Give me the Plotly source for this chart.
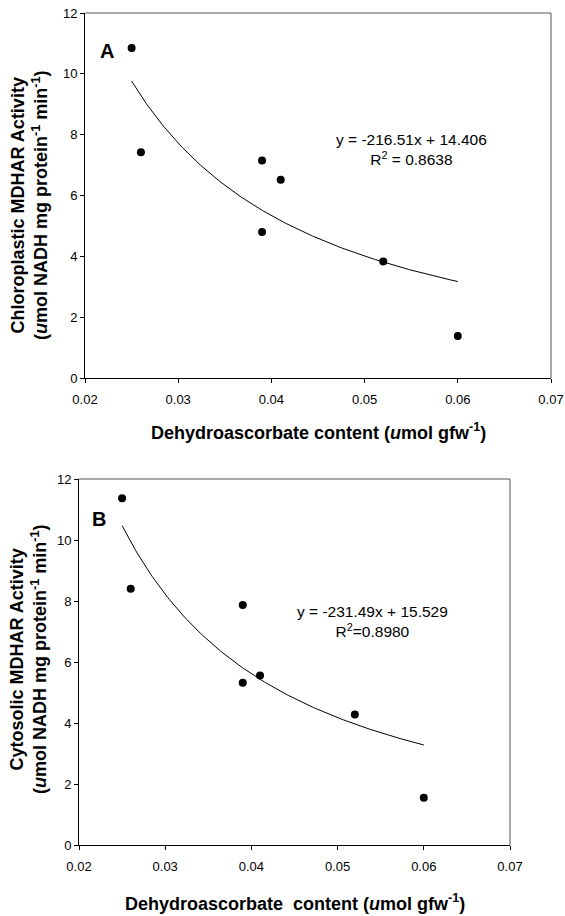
import numpy as np
import plotly.graph_objects as go

# ---- data ----
dha_content = [0.025, 0.026, 0.039, 0.039, 0.041, 0.052, 0.060]
chloro_mdhar = [10.85, 7.42, 7.15, 4.80, 6.52, 3.83, 1.38]
cyto_mdhar = [11.37, 8.40, 7.87, 5.32, 5.56, 4.28, 1.55]

# fitted curve (power form): y = y0 * (x / x0) ** (-k)
fit_x_range = [0.025, 0.060]
fit_A = {"y0": 9.76, "k": 1.284}
fit_B = {"y0": 10.47, "k": 1.326}

x_ticks = [0.02, 0.03, 0.04, 0.05, 0.06, 0.07]
x_tick_labels = ["0.02", "0.03", "0.04", "0.05", "0.06", "0.07"]
y_ticks = [0, 2, 4, 6, 8, 10, 12]

eq_A = "y = -216.51x + 14.406<br>R<sup>2</sup> = 0.8638"
eq_B = "y = -231.49x + 15.529<br>R<sup>2</sup>=0.8980"

FONT = "Liberation Sans, Arial, sans-serif"

fx = np.linspace(fit_x_range[0], fit_x_range[1], 200)
fyA = fit_A["y0"] * (fx / fit_x_range[0]) ** (-fit_A["k"])
fyB = fit_B["y0"] * (fx / fit_x_range[0]) ** (-fit_B["k"])

fig = go.Figure()
fig.add_trace(go.Scatter(x=fx, y=fyA, mode="lines", line=dict(color="black", width=1),
                         xaxis="x", yaxis="y", showlegend=False, hoverinfo="skip"))
fig.add_trace(go.Scatter(x=dha_content, y=chloro_mdhar, mode="markers",
                         marker=dict(color="black", size=8), xaxis="x", yaxis="y", showlegend=False))
fig.add_trace(go.Scatter(x=fx, y=fyB, mode="lines", line=dict(color="black", width=1),
                         xaxis="x2", yaxis="y2", showlegend=False, hoverinfo="skip"))
fig.add_trace(go.Scatter(x=dha_content, y=cyto_mdhar, mode="markers",
                         marker=dict(color="black", size=8), xaxis="x2", yaxis="y2", showlegend=False))

W, H = 565, 916

def xax(domain, anchor):
    return dict(domain=domain, anchor=anchor, range=[0.02, 0.07], tickvals=x_ticks,
                ticktext=x_tick_labels, ticks="outside", ticklen=4, tickcolor="black",
                showline=True, linecolor="black", linewidth=1, mirror=False,
                showgrid=False, zeroline=False, automargin=False, ticklabelstandoff=5,
                tickfont=dict(family=FONT, size=13, color="black"))

def yax(domain, anchor):
    return dict(domain=domain, anchor=anchor, range=[0, 12], tickvals=y_ticks,
                ticks="outside", ticklen=4, tickcolor="black",
                showline=True, linecolor="black", linewidth=1, mirror=False,
                showgrid=False, zeroline=False, automargin=False,
                tickfont=dict(family=FONT, size=13, color="black"))

A_x = [85 / W, 551 / W]
A_y = [1 - 378 / H, 1 - 13 / H]
B_x = [79 / W, 510 / W]
B_y = [1 - 845 / H, 1 - 479 / H]

shapes = []
# top and right frame lines (gray)
for (xd, yd) in [(A_x, A_y), (B_x, B_y)]:
    shapes.append(dict(type="line", xref="paper", yref="paper", x0=xd[0], x1=xd[1], y0=yd[1], y1=yd[1],
                       line=dict(color="#555555", width=1)))
    shapes.append(dict(type="line", xref="paper", yref="paper", x0=xd[1], x1=xd[1], y0=yd[0], y1=yd[1],
                       line=dict(color="#555555", width=1)))

def ann(text, x, y, xref, yref, size, angle=0):
    return dict(text=text, x=x, y=y, xref=xref, yref=yref, showarrow=False, align="center",
                xanchor="center", yanchor="middle", textangle=angle,
                font=dict(family=FONT, size=size, color="black"))

annotations = [
    ann("<b>A</b>", 107 / W, 1 - 51 / H, "paper", "paper", 20),
    ann("<b>B</b>", 99 / W, 1 - 519 / H, "paper", "paper", 20),
    ann(eq_A, 0.055, 7.5, "x", "y", 15.5),
    ann(eq_B, 0.0541, 7.33, "x2", "y2", 15.5),
    ann("<b>Dehydroascorbate content (<i>u</i>mol gfw<sup>-1</sup>)</b>", 318 / W, 1 - 431 / H,
        "paper", "paper", 18),
    ann("<b>Dehydroascorbate&nbsp; content (<i>u</i>mol gfw<sup>-1</sup>)</b>", 295 / W, 1 - 902 / H,
        "paper", "paper", 18),
    ann("<b>Chloroplastic MDHAR Activity<br>(<i>u</i>mol NADH mg protein<sup>-1</sup> min<sup>-1</sup>)</b>",
        29 / W, 1 - 206 / H, "paper", "paper", 18, -90),
    ann("<b>Cytosolic MDHAR Activity<br>(<i>u</i>mol NADH mg protein<sup>-1</sup> min<sup>-1</sup>)</b>",
        28 / W, 1 - 660 / H, "paper", "paper", 18, -90),
]

fig.update_layout(
    width=W, height=H, margin=dict(l=0, r=0, t=0, b=0),
    paper_bgcolor="white", plot_bgcolor="white",
    xaxis=xax(A_x, "y"), yaxis=yax(A_y, "x"),
    xaxis2=xax(B_x, "y2"), yaxis2=yax(B_y, "x2"),
    shapes=shapes, annotations=annotations,
    font=dict(family=FONT, color="black"),
)

fig.write_html("out.html")
